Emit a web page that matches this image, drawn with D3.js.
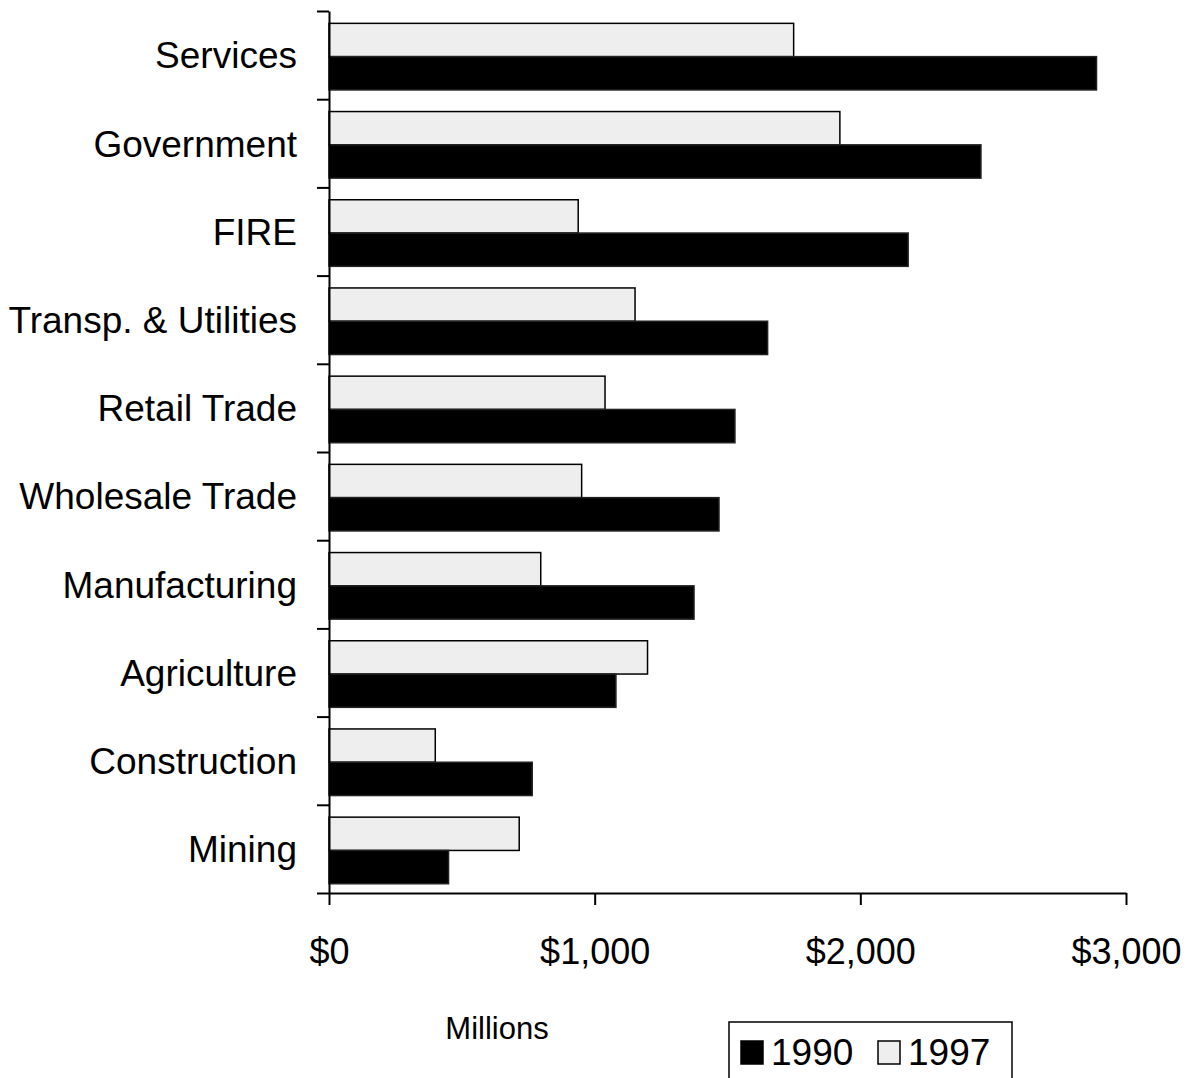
<!DOCTYPE html>
<html>
<head>
<meta charset="utf-8">
<script src="https://cdn.jsdelivr.net/npm/d3@7"></script>
<style>
  html, body { margin: 0; padding: 0; background: #fff; }
  svg { display: block; font-family: "Liberation Sans", Arial, sans-serif; }
</style>
</head>
<body>
<svg id="chart" width="1194" height="1078"></svg>
<script>
// Industry categories, listed top to bottom
const categories = [
  "Services", "Government", "FIRE", "Transp. & Utilities", "Retail Trade",
  "Wholesale Trade", "Manufacturing", "Agriculture", "Construction", "Mining"
];
// Values in millions of dollars
const values1990 = [2889, 2454, 2180, 1651, 1528, 1468, 1374, 1080, 765, 450];
const values1997 = [1749, 1923, 938, 1152, 1039, 951, 797, 1199, 400, 716];
const seriesNames = ["1990", "1997"];
const xTicks = [0, 1000, 2000, 3000];

const svg = d3.select("#chart");

const x = d3.scaleLinear().domain([0, 3000]).range([329, 1126]);
const y = d3.scaleBand().domain(categories).range([11, 893]);
const bw = y.bandwidth();
// within each category: 1997 bar on top, 1990 bar below
const inner = d3.scaleBand().domain(["1997", "1990"]).range([bw * 0.14, bw * 0.895]);

const fills = { "1990": "#000000", "1997": "#eeeeee" };
const rows = [];
categories.forEach((c, i) => {
  rows.push({ cat: c, s: "1997", v: values1997[i] });
  rows.push({ cat: c, s: "1990", v: values1990[i] });
});

svg.append("g").selectAll("rect").data(rows).join("rect")
  .attr("x", x(0))
  .attr("y", d => y(d.cat) + inner(d.s))
  .attr("width", d => x(d.v) - x(0))
  .attr("height", inner.bandwidth())
  .attr("fill", d => fills[d.s])
  .attr("stroke", d => d.s === "1990" ? "#222" : "#000")
  .attr("stroke-width", 1.5);

// Y axis with ticks at category boundaries
const yb = d3.scaleLinear().domain([0, categories.length]).range([11, 893]);
svg.append("g")
  .attr("transform", `translate(${x(0)},0)`)
  .call(d3.axisLeft(yb).tickValues(d3.range(0, categories.length + 1)).tickSize(12).tickSizeOuter(0).tickFormat(""))
  .call(g => g.selectAll("line, path").attr("stroke", "#000").attr("stroke-width", 2));

// Category labels
svg.append("g").selectAll("text").data(categories).join("text")
  .attr("x", 297)
  .attr("y", d => y(d) + bw / 2)
  .attr("dy", "0.36em")
  .attr("text-anchor", "end")
  .attr("font-size", 37)
  .attr("fill", "#000")
  .text(d => d);

// X axis
svg.append("g")
  .attr("transform", "translate(0,893)")
  .call(d3.axisBottom(x).tickValues(xTicks).tickSize(12).tickSizeOuter(0).tickPadding(33)
    .tickFormat(d => "$" + d3.format(",")(d)))
  .call(g => g.selectAll("line, path").attr("stroke", "#000").attr("stroke-width", 2))
  .call(g => g.selectAll("text").attr("font-size", 36).attr("fill", "#000")
    .attr("font-family", "'Liberation Sans', Arial, sans-serif"));

// Axis title
svg.append("text")
  .attr("x", 497).attr("y", 1039)
  .attr("text-anchor", "middle")
  .attr("font-size", 31)
  .text("Millions");

// Legend
const legend = svg.append("g");
legend.append("rect")
  .attr("x", 729).attr("y", 1022).attr("width", 283).attr("height", 80)
  .attr("fill", "#fff").attr("stroke", "#000").attr("stroke-width", 1.5);
const legX = [741, 878];
seriesNames.forEach((s, i) => {
  legend.append("rect")
    .attr("x", legX[i]).attr("y", 1041).attr("width", 22).attr("height", 23)
    .attr("fill", fills[s]).attr("stroke", "#000").attr("stroke-width", 1.5);
  legend.append("text")
    .attr("x", legX[i] + 30).attr("y", 1065)
    .attr("font-size", 37)
    .text(s);
});
</script>
</body>
</html>
